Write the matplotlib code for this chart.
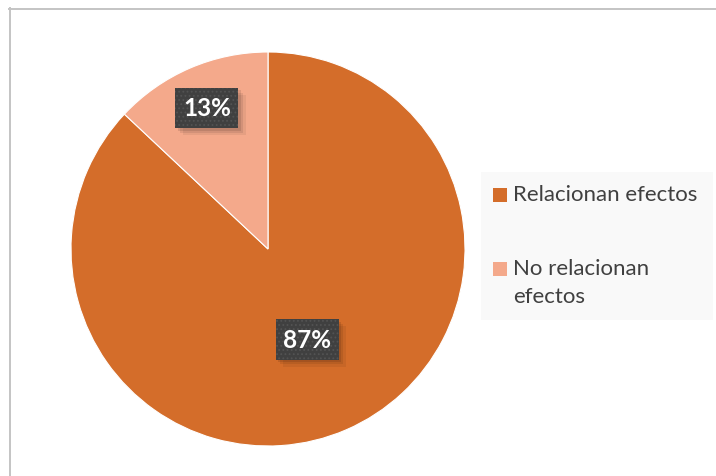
import matplotlib
matplotlib.use('Agg')
import matplotlib.pyplot as plt
from matplotlib.patches import Rectangle
from matplotlib.lines import Line2D
import numpy as np

categories = ['Relacionan efectos', 'No relacionan\nefectos']
values = [87, 13]
colors = ['#D46D2A', '#F4A98B']
label_dist = [0.50, 0.78]

plt.rcParams['hatch.linewidth'] = 0.8

W, H = 716, 477
fig = plt.figure(figsize=(W / 100, H / 100), dpi=100)
fig.patch.set_facecolor('white')

# outer chart frame (top and left edges only visible)
fig.add_artist(Line2D([9 / W, 1], [1 - 9.5 / H, 1 - 9.5 / H], color='#c4c4c4', lw=1.4))
fig.add_artist(Line2D([9.5 / W, 9.5 / W], [0, 1 - 9 / H], color='#c4c4c4', lw=1.4))

cx, cy, r = 268, 250, 197
ax = fig.add_axes([(cx - r) / W, (H - cy - r) / H, 2 * r / W, 2 * r / H])
wedges, _ = ax.pie(values, colors=colors, startangle=90, counterclock=False,
                   wedgeprops=dict(edgecolor='white', linewidth=0.8))
ax.set_xlim(-1, 1)
ax.set_ylim(-1, 1)
ax.set_aspect('equal')
ax.axis('off')

# percentage labels in dark boxes with a soft shadow
for w, v, d in zip(wedges, values, label_dist):
    ang = np.deg2rad((w.theta1 + w.theta2) / 2)
    x, y = d * np.cos(ang), d * np.sin(ang)
    bw, bh = 0.32, 0.205
    for k, a in enumerate([0.10, 0.08, 0.06]):
        off = 0.012 * (k + 1)
        ax.add_patch(Rectangle((x - bw / 2 + off, y - bh / 2 - off), bw, bh,
                               facecolor='black', alpha=a, lw=0, zorder=3))
    ax.add_patch(Rectangle((x - bw / 2, y - bh / 2), bw, bh, facecolor='#404040',
                           edgecolor='#535353', hatch='....', lw=0, zorder=4))
    ax.text(x, y, f'{v}%', ha='center', va='center', color='white',
            fontsize=17.5, fontweight='bold', family='Lato', zorder=5)

# legend panel
fig.add_artist(Rectangle((481 / W, 1 - 321 / H), (713 - 481) / W, (321 - 173) / H,
                         transform=fig.transFigure, facecolor='#f9f9f9', lw=0))
ys = [189, 263]
for c, lab, y0 in zip(colors, categories, ys):
    fig.add_artist(Rectangle((493 / W, 1 - (y0 + 14) / H), 14 / W, 14 / H,
                             transform=fig.transFigure, facecolor=c, lw=0))
    fig.text(513 / W, 1 - (y0 - 4) / H, lab, ha='left', va='top', color='#404040',
             fontsize=16, family='Lato', linespacing=1.5)

fig.savefig('out.png', dpi=100)
